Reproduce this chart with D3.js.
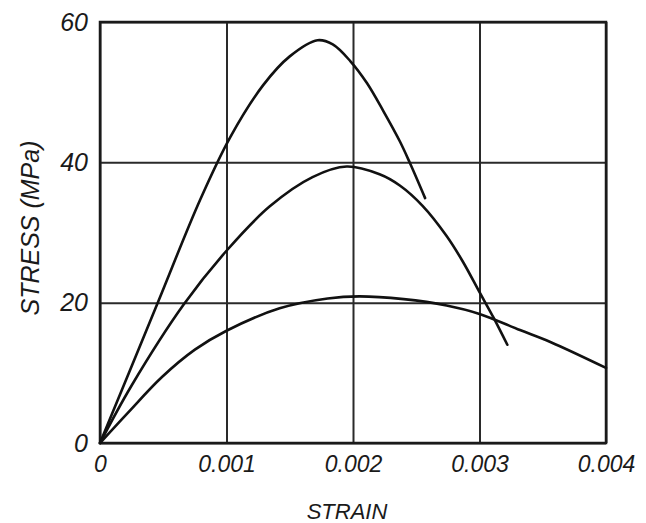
<!DOCTYPE html>
<html>
<head>
<meta charset="utf-8">
<script src="https://cdn.jsdelivr.net/npm/d3@7"></script>
<style>
  html, body { margin: 0; padding: 0; background: #fff; }
  svg text { font-family: "Liberation Sans", Arial, sans-serif; font-style: italic; fill: #1a1a1a; }
</style>
</head>
<body>
<svg id="chart" width="646" height="523"></svg>
<script>
// Stress–strain curves for three concretes of different strength
const strainA = [0, 0.00045, 0.00079, 0.00103, 0.00129, 0.0015, 0.00172, 0.00184, 0.00198, 0.00211, 0.00224, 0.00237, 0.00245, 0.00257];
const stressA = [0, 19.7, 34.6, 43.6, 51.0, 55.1, 57.4, 56.8, 54.4, 51.3, 47.3, 43.0, 39.9, 34.9];

const strainB = [0, 0.00025, 0.00066, 0.001, 0.00134, 0.00168, 0.00195, 0.00221, 0.00237, 0.00255, 0.00274, 0.00287, 0.003, 0.00311, 0.00322];
const stressB = [0, 8.2, 19.7, 27.4, 33.7, 37.9, 39.4, 38.3, 36.7, 33.8, 29.5, 25.8, 21.5, 17.9, 14.0];

const strainC = [0, 0.00022, 0.00049, 0.00075, 0.001, 0.00142, 0.0018, 0.00205, 0.0024, 0.00274, 0.003, 0.00332, 0.00356, 0.004];
const stressC = [0, 4.3, 9.4, 13.3, 16.0, 19.2, 20.6, 20.9, 20.5, 19.6, 18.4, 16.1, 14.4, 10.7];

const xTicks = [0, 0.001, 0.002, 0.003, 0.004];
const xTickLabels = ["0", "0.001", "0.002", "0.003", "0.004"];
const yTicks = [0, 20, 40, 60];
const yTickLabels = ["0", "20", "40", "60"];

const xTitle = "STRAIN";
const yTitle = "STRESS (MPa)";

const plotLeft = 100, plotRight = 606, plotTop = 22, plotBottom = 443;
const svg = d3.select("#chart");

const x = d3.scaleLinear().domain([0, 0.004]).range([plotLeft, plotRight]);
const y = d3.scaleLinear().domain([0, 60]).range([plotBottom, plotTop]);

// Grid lines and tick labels via axes
const xAxis = d3.axisBottom(x)
  .tickValues(xTicks)
  .tickFormat((d, i) => xTickLabels[i])
  .tickSizeInner(-(plotBottom - plotTop))
  .tickSizeOuter(0)
  .tickPadding(13);
const gx = svg.append("g").attr("transform", `translate(0,${plotBottom})`).call(xAxis);
gx.select(".domain").remove();
gx.selectAll("line").attr("stroke", "#2a2a2a").attr("stroke-width", 2);
gx.selectAll("text").attr("font-size", 23).attr("fill", "#1a1a1a");

const yAxis = d3.axisLeft(y)
  .tickValues(yTicks)
  .tickFormat((d, i) => yTickLabels[i])
  .tickSizeInner(-(plotRight - plotLeft))
  .tickSizeOuter(0)
  .tickPadding(12);
const gy = svg.append("g").attr("transform", `translate(${plotLeft},0)`).call(yAxis);
gy.select(".domain").remove();
gy.selectAll("line").attr("stroke", "#2a2a2a").attr("stroke-width", 2);
gy.selectAll("text").attr("font-size", 25).attr("fill", "#1a1a1a");

// Plot frame
svg.append("rect")
  .attr("x", plotLeft).attr("y", plotTop)
  .attr("width", plotRight - plotLeft).attr("height", plotBottom - plotTop)
  .attr("fill", "none").attr("stroke", "#1a1a1a").attr("stroke-width", 2.5);

// Curves
const line = d3.line()
  .x(d => x(d[0]))
  .y(d => y(d[1]))
  .curve(d3.curveCatmullRom.alpha(0.5));

[[strainA, stressA], [strainB, stressB], [strainC, stressC]].forEach(([s, t]) => {
  svg.append("path")
    .datum(s.map((v, i) => [v, t[i]]))
    .attr("d", line)
    .attr("fill", "none")
    .attr("stroke", "#111")
    .attr("stroke-width", 2.6)
    .attr("stroke-linecap", "round");
});

// Axis titles
svg.append("text")
  .attr("x", 347).attr("y", 519)
  .attr("text-anchor", "middle")
  .attr("font-size", 22)
  .text(xTitle);

svg.append("text")
  .attr("transform", "translate(39,228) rotate(-90)")
  .attr("text-anchor", "middle")
  .attr("font-size", 25)
  .text(yTitle);
</script>
</body>
</html>
